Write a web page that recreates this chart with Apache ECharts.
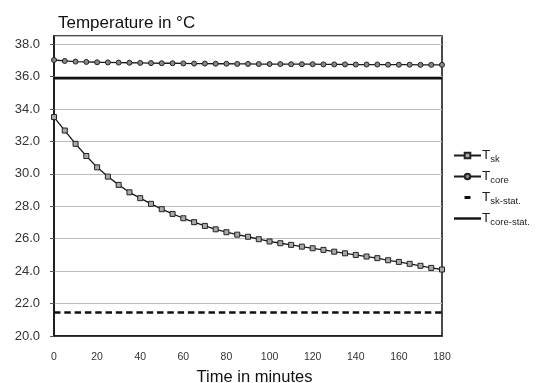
<!DOCTYPE html>
<html>
<head>
<meta charset="utf-8">
<script src="https://cdn.jsdelivr.net/npm/echarts@6/dist/echarts.min.js"></script>
<style>
  html, body { margin: 0; padding: 0; background: #fff; }
  #chart { width: 538px; height: 383px; }
</style>
</head>
<body>
<div id="chart"></div>
<script>
// Sampling times (minutes), every 5 minutes
const times = [0, 5, 10, 15, 20, 25, 30, 35, 40, 45, 50, 55, 60, 65, 70, 75, 80, 85, 90,
  95, 100, 105, 110, 115, 120, 125, 130, 135, 140, 145, 150, 155, 160, 165, 170, 175, 180];

// Skin temperature (°C)
const tSkin = [33.5, 32.67, 31.85, 31.1, 30.4, 29.83, 29.32, 28.86, 28.5, 28.15, 27.82, 27.53,
  27.26, 27.02, 26.79, 26.58, 26.4, 26.25, 26.12, 25.97, 25.83, 25.72, 25.62, 25.51, 25.41,
  25.31, 25.2, 25.1, 25.0, 24.9, 24.8, 24.67, 24.57, 24.45, 24.33, 24.2, 24.1];

// Core temperature (°C)
const tCore = [37.02, 36.96, 36.92, 36.9, 36.88, 36.87, 36.86, 36.85, 36.84, 36.83, 36.82, 36.82,
  36.81, 36.8, 36.8, 36.79, 36.79, 36.78, 36.78, 36.77, 36.77, 36.77, 36.76, 36.76, 36.76,
  36.75, 36.75, 36.75, 36.74, 36.74, 36.74, 36.73, 36.73, 36.73, 36.72, 36.72, 36.72];

// Stationary (steady-state) levels
const tSkinStat = 21.45;
const tCoreStat = 35.9;

// Axis settings
const xTicks = { min: 0, max: 180, step: 20 };
const yTicks = { min: 20, max: 38.5, step: 2 };

// Legend names and their subscripts
const legendNames = ['Tsk', 'Tcore', 'Tsk-stat.', 'Tcore-stat.'];
const legendSubs = ['sk', 'core', 'sk-stat.', 'core-stat.'];

const pairs = (vals) => times.map((t, i) => [t, vals[i]]);
const flat = (v) => [[times[0], v], [times[times.length - 1], v]];

const FONT = 'Liberation Sans, Arial, Helvetica, sans-serif';

const legendRich = {
  t: { fontSize: 13.5, color: '#222', fontFamily: FONT, lineHeight: 14 },
  s: { fontSize: 9.5, color: '#222', fontFamily: FONT, padding: [7, 0, 0, 0], lineHeight: 10 }
};

// Legend icons (27 x 7 box): a short centred dash and a plain bar
const dashIcon = 'path://M0,0M27,7M10.5,2h6v3h-6z';
const barIcon = 'path://M0,0M27,7M0,2.3h27v2.4h-27z';

const chart = echarts.init(document.getElementById('chart'), null, { renderer: 'canvas' });

chart.setOption({
  animation: false,
  backgroundColor: '#fff',
  title: {
    text: 'Temperature in °C',
    left: 53,
    top: 10,
    textStyle: { fontFamily: FONT, fontSize: 17, fontWeight: 'normal', color: '#111' }
  },
  grid: {
    left: 54, right: 96, top: 36, bottom: 47,
    outerBoundsMode: 'none',
    containLabel: false,
    show: true, borderColor: '#111', borderWidth: 1.5, backgroundColor: '#fff'
  },
  legend: {
    orient: 'vertical',
    left: 453,
    top: 147,
    itemWidth: 27,
    itemHeight: 7,
    itemGap: 4,
    padding: 0,
    symbolKeepAspect: false,
    textStyle: { rich: legendRich, padding: [0, 0, 0, -4] },
    formatter: function (name) {
      return '{t|T}{s|' + legendSubs[legendNames.indexOf(name)] + '}';
    },
    data: [
      { name: legendNames[0] },
      { name: legendNames[1] },
      { name: legendNames[2], icon: dashIcon },
      { name: legendNames[3], icon: barIcon }
    ]
  },
  xAxis: {
    type: 'value',
    min: xTicks.min, max: xTicks.max, interval: xTicks.step,
    name: 'Time in minutes',
    nameLocation: 'middle',
    nameGap: 33,
    nameTextStyle: { fontFamily: FONT, fontSize: 16.5, color: '#111', padding: [0, 0, 0, 13] },
    axisLine: { show: true, lineStyle: { color: '#111', width: 1.5 } },
    axisTick: { show: false },
    axisLabel: { fontFamily: FONT, fontSize: 10.5, color: '#333', margin: 16 },
    splitLine: { show: false }
  },
  yAxis: {
    type: 'value',
    min: yTicks.min, max: yTicks.max, interval: yTicks.step,
    axisLine: { show: true, lineStyle: { color: '#111', width: 1.5 } },
    axisTick: { show: true, length: 4, lineStyle: { color: '#555' } },
    axisLabel: {
      fontFamily: FONT, fontSize: 13, color: '#333', margin: 14,
      showMaxLabel: false,
      formatter: (v) => v.toFixed(1)
    },
    splitLine: { show: true, lineStyle: { color: '#bdbdbd', width: 1 } }
  },
  series: [
    {
      name: legendNames[0],
      type: 'line',
      data: pairs(tSkin),
      symbol: 'rect',
      symbolSize: 5,
      showAllSymbol: true,
      lineStyle: { color: '#1a1a1a', width: 1.3 },
      itemStyle: { color: '#aaa', borderColor: '#222', borderWidth: 1 },
      z: 5
    },
    {
      name: legendNames[1],
      type: 'line',
      data: pairs(tCore),
      symbol: 'circle',
      symbolSize: 5,
      showAllSymbol: true,
      lineStyle: { color: '#1a1a1a', width: 1.3 },
      itemStyle: { color: '#888', borderColor: '#222', borderWidth: 1 },
      z: 5
    },
    {
      name: legendNames[2],
      type: 'line',
      data: flat(tSkinStat),
      symbol: 'none',
      lineStyle: { color: '#111', width: 2.5, type: [6.5, 3.8] },
      itemStyle: { color: '#111' },
      z: 4
    },
    {
      name: legendNames[3],
      type: 'line',
      data: flat(tCoreStat),
      symbol: 'none',
      lineStyle: { color: '#111', width: 2.5 },
      itemStyle: { color: '#111' },
      z: 4
    }
  ]
});
</script>
</body>
</html>
